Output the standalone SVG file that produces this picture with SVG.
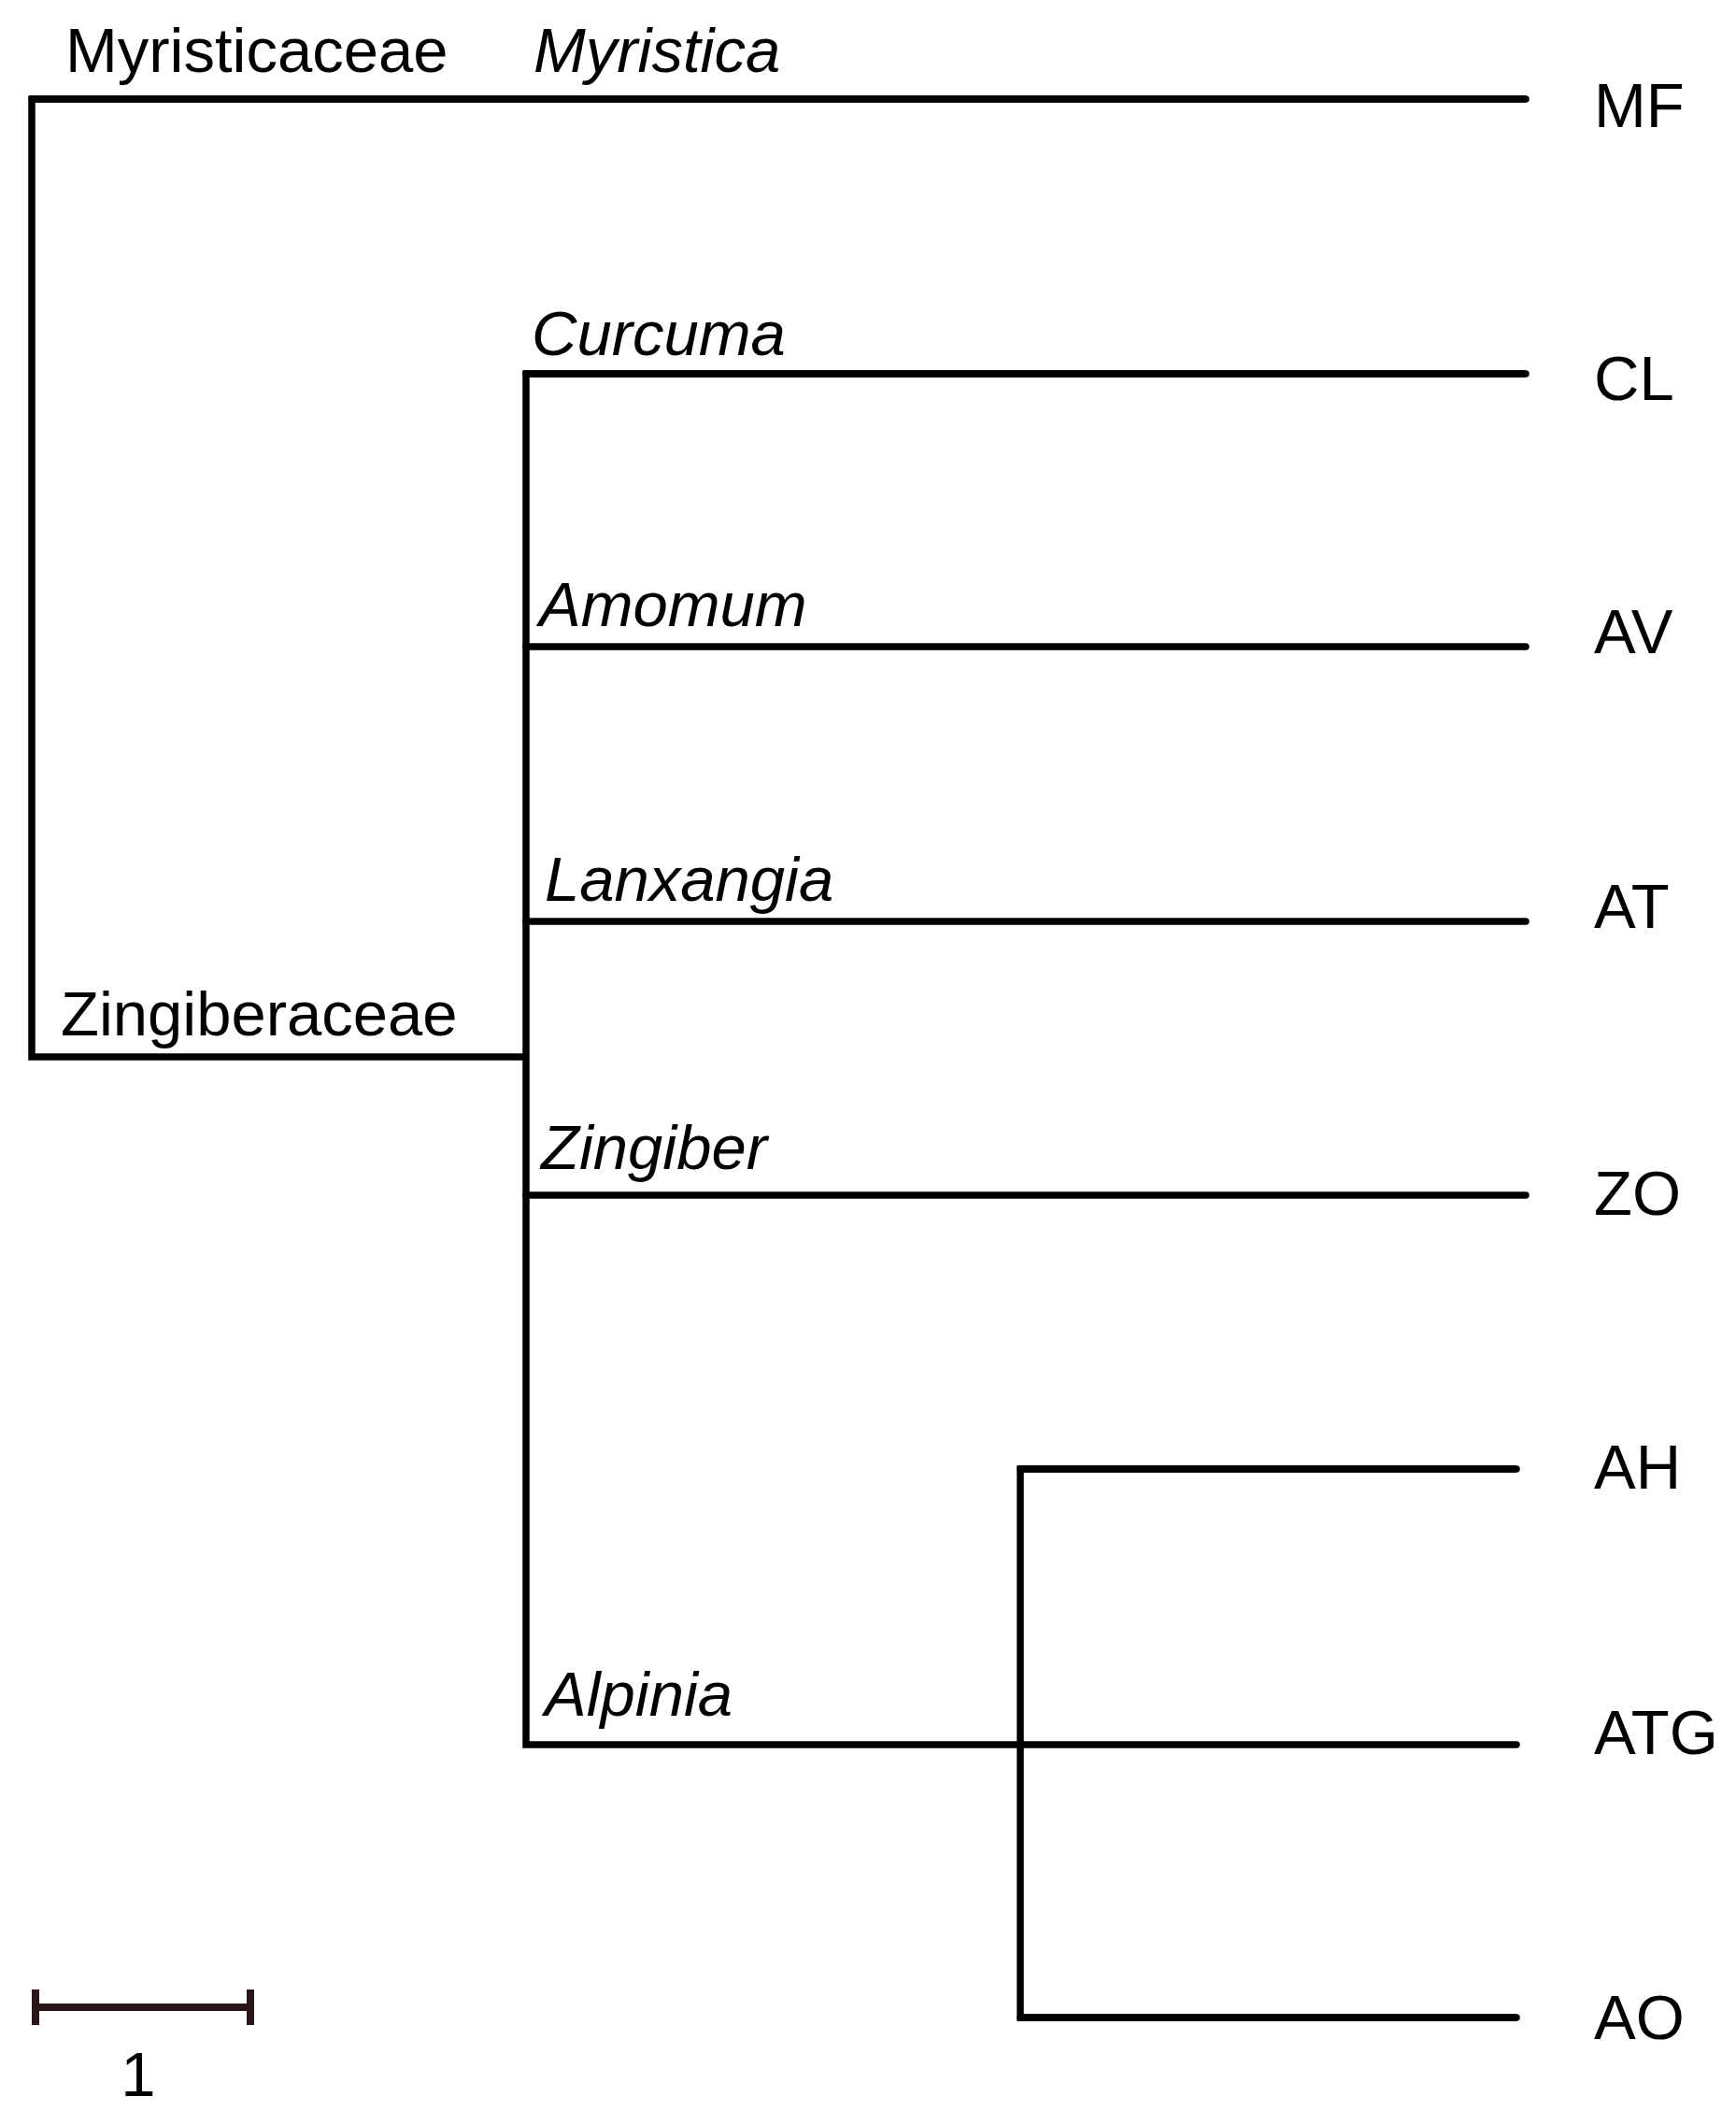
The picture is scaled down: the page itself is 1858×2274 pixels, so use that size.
<svg xmlns="http://www.w3.org/2000/svg" width="1858" height="2274" viewBox="0 0 1858 2274">
<style>
.br{fill:none;stroke:#000;stroke-width:7.5;stroke-linejoin:miter;stroke-linecap:butt}
.tip{stroke-linecap:round}
.lab{font-family:"Liberation Sans",Arial,sans-serif;font-size:67px;fill:#000}
.it{font-style:italic}
.sb{fill:none;stroke:#2a1616;stroke-width:8}
</style>
<rect width="1858" height="2274" fill="#fff"/>
<g id="connectors">
<polyline class="br" points="1633,106 34,106 34,1131 563,1131"/>
<line class="br tip" x1="34" y1="106" x2="1633" y2="106"/>
<polyline class="br" points="1633,400 563,400 563,1867 1092,1867"/>
<line class="br tip" x1="563" y1="400" x2="1633" y2="400"/>
<line class="br tip" x1="563" y1="692" x2="1633" y2="692"/>
<line class="br tip" x1="563" y1="986" x2="1633" y2="986"/>
<line class="br tip" x1="563" y1="1279" x2="1633" y2="1279"/>
<line class="br tip" x1="1092" y1="1867" x2="1623" y2="1867"/>
<polyline class="br" points="1623,1572 1092,1572 1092,2159 1623,2159"/>
<line class="br tip" x1="1092" y1="1572" x2="1623" y2="1572"/>
<line class="br tip" x1="1092" y1="2159" x2="1623" y2="2159"/>
</g>
<g id="family-labels">
<text class="lab" x="70" y="77">Myristicaceae</text>
<text class="lab" x="65" y="1108">Zingiberaceae</text>
</g>
<g id="genus-labels">
<text class="lab it" x="571" y="77">Myristica</text>
<text class="lab it" x="569" y="380">Curcuma</text>
<text class="lab it" x="577" y="670">Amomum</text>
<text class="lab it" x="583" y="964">Lanxangia</text>
<text class="lab it" x="579" y="1251">Zingiber</text>
<text class="lab it" x="583" y="1836">Alpinia</text>
</g>
<g id="tip-MF"><text class="lab" x="1706" y="136">MF</text></g>
<g id="tip-CL"><text class="lab" x="1706" y="428">CL</text></g>
<g id="tip-AV"><text class="lab" x="1706" y="699">AV</text></g>
<g id="tip-AT"><text class="lab" x="1706" y="993">AT</text></g>
<g id="tip-ZO"><text class="lab" x="1706" y="1300">ZO</text></g>
<g id="tip-AH"><text class="lab" x="1706" y="1593">AH</text></g>
<g id="tip-ATG"><text class="lab" x="1706" y="1877">ATG</text></g>
<g id="tip-AO"><text class="lab" x="1706" y="2182">AO</text></g>
<g id="scale-bar">
<line class="sb" x1="38" y1="2148" x2="268" y2="2148"/>
<line class="sb" stroke-width="9" x1="38" y1="2129" x2="38" y2="2167"/>
<line class="sb" stroke-width="9" x1="268" y1="2129" x2="268" y2="2167"/>
<text class="lab" x="148" y="2243" text-anchor="middle">1</text>
</g>
</svg>
